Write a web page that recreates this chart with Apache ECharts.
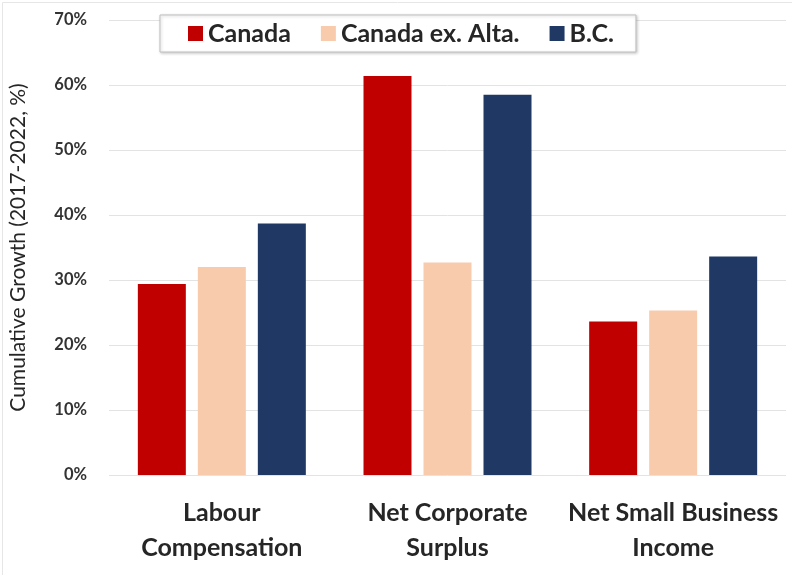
<!DOCTYPE html>
<html>
<head>
<meta charset="utf-8">
<script src="https://cdn.jsdelivr.net/npm/echarts@6/dist/echarts.min.js"></script>
<style>
html,body{margin:0;padding:0;background:#fff;}
#chart{width:792px;height:575px;}
</style>
</head>
<body>
<div id="chart"></div>
<script>
var categories = ['Labour\nCompensation', 'Net Corporate\nSurplus', 'Net Small Business\nIncome'];
var seriesNames = ['Canada', 'Canada ex. Alta.', 'B.C.'];
var canada = [29.4, 61.4, 23.6];
var canadaExAlta = [32.0, 32.7, 25.3];
var bc = [38.7, 58.5, 33.6];
var yTicks = [0, 10, 20, 30, 40, 50, 60, 70];
var colors = ['#C00000', '#F8CBAD', '#1F3864'];
var fontFam = 'Lato, "Open Sans", sans-serif';

var chart = echarts.init(document.getElementById('chart'));
var values = [canada, canadaExAlta, bc];
chart.setOption({
  animation: false,
  backgroundColor: '#ffffff',
  graphic: [{
    type: 'rect', left: 0, top: 0, silent: true,
    shape: {x: 0.5, y: 0.5, width: 790, height: 573},
    style: {fill: 'none', stroke: '#E6E6E6', lineWidth: 1}
  }],
  grid: {left: 104, right: 6, top: 20, bottom: 100, containLabel: false},
  legend: {
    data: seriesNames,
    left: 160, top: 15,
    itemWidth: 15, itemHeight: 15, itemGap: 30,
    padding: [6, 22, 6, 28],
    borderColor: '#BFBFBF', borderWidth: 1,
    backgroundColor: '#fff',
    shadowColor: 'rgba(0,0,0,0.2)', shadowBlur: 3, shadowOffsetX: 1, shadowOffsetY: 1,
    icon: 'rect',
    textStyle: {fontFamily: fontFam, fontWeight: 'bold', fontSize: 25, color: '#262626', padding: [0,0,0,0]}
  },
  xAxis: {
    type: 'category',
    data: categories,
    axisLine: {show: false},
    axisTick: {show: false},
    axisLabel: {interval: 0, fontFamily: fontFam, fontWeight: 'bold', fontSize: 25, color: '#262626', lineHeight: 35, margin: 20}
  },
  yAxis: {
    type: 'value',
    min: yTicks[0], max: yTicks[yTicks.length - 1], interval: 10,
    name: 'Cumulative Growth (2017-2022, %)',
    nameLocation: 'middle', nameGap: 80, nameRotate: 90,
    nameTextStyle: {fontFamily: fontFam, fontSize: 21, color: '#262626'},
    axisLine: {show: false},
    axisTick: {show: false},
    splitLine: {lineStyle: {color: '#E3E3E3', width: 1}},
    axisLabel: {formatter: '{value}%', fontFamily: fontFam, fontWeight: 'bold', fontSize: 16.5, color: '#333333', margin: 22}
  },
  series: seriesNames.map(function (n, i) {
    return {
      name: n, type: 'bar', data: values[i],
      barWidth: 48, barGap: '25%',
      itemStyle: {color: colors[i]}
    };
  })
});
</script>
</body>
</html>
